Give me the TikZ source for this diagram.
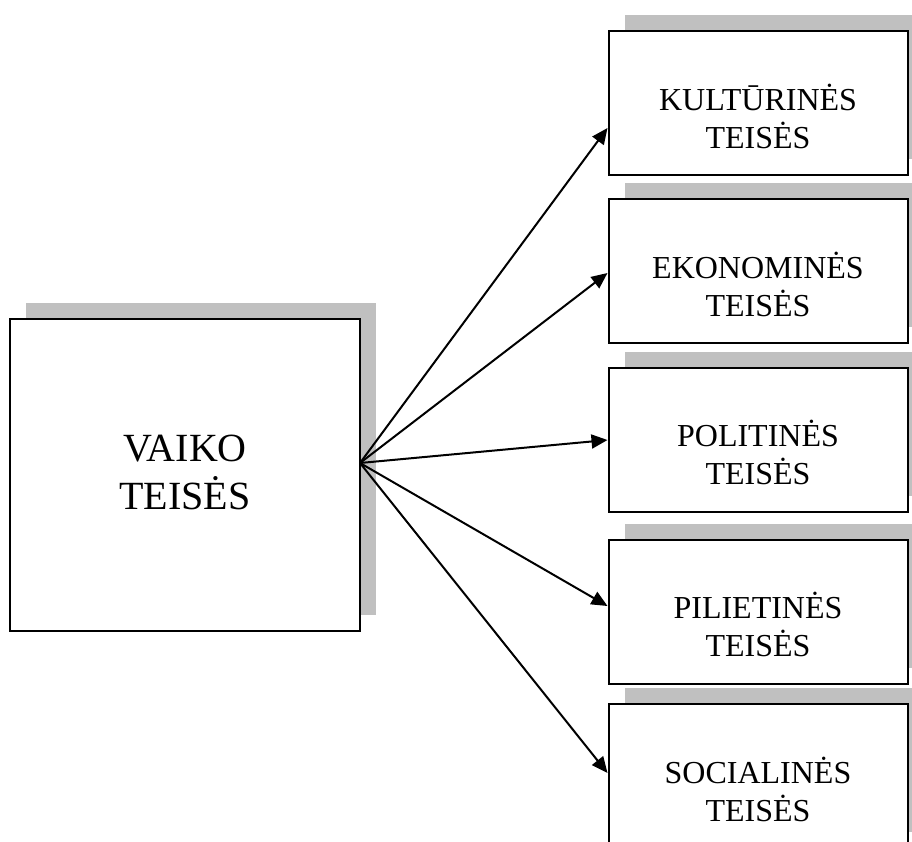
\documentclass[tikz,border=0pt]{standalone}
\usepackage{fontspec}
\setmainfont{Liberation Serif}
\usetikzlibrary{arrows.meta,shadows,positioning}
\definecolor{shadowgray}{RGB}{192,192,192}
\tikzset{
  box/.style={draw=black, line width=2pt, fill=white,
    general shadow={fill=shadowgray, shadow xshift=16pt, shadow yshift=16pt}},
  bigbox/.style={box, minimum width=350pt, minimum height=312pt},
  rightsbox/.style={box, minimum width=299pt, minimum height=144pt},
  bigtext/.style={align=center, font=\fontsize{40}{48}\selectfont, yshift=3pt},
  smalltext/.style={align=center, font=\fontsize{32}{38}\selectfont, yshift=-13pt},
  arr/.style={-{Triangle[length=16pt,width=14pt]}, line width=2pt}
}
\begin{document}
\begin{tikzpicture}[x=1pt,y=-1pt]
\clip (0,0) rectangle (912,842);
\node(vaiko) at (185,475)[bigbox, label={[bigtext]center:VAIKO\\TEISĖS}]{};
\coordinate(hub) at (360,463);
\node(kult) at (758,103)[rightsbox, label={[smalltext]center:KULTŪRINĖS\\TEISĖS}]{};
\node(ekon) at (758,271)[rightsbox, label={[smalltext]center:EKONOMINĖS\\TEISĖS}]{};
\node(poli) at (758,439.5)[rightsbox, label={[smalltext]center:POLITINĖS\\TEISĖS}]{};
\node(pili) at (758,611.5)[rightsbox, label={[smalltext]center:PILIETINĖS\\TEISĖS}]{};
\node(soci) at (758,776)[rightsbox, label={[smalltext]center:SOCIALINĖS\\TEISĖS}]{};
\path [arr]
  (hub) edge ([yshift=-25pt]kult.west)
  (hub) edge ([yshift=-2pt]ekon.west)
  (hub) edge ([yshift=-0.5pt]poli.west)
  (hub) edge ([yshift=5.5pt]pili.west)
  (hub) edge ([yshift=3pt]soci.west);
\end{tikzpicture}
\end{document}
